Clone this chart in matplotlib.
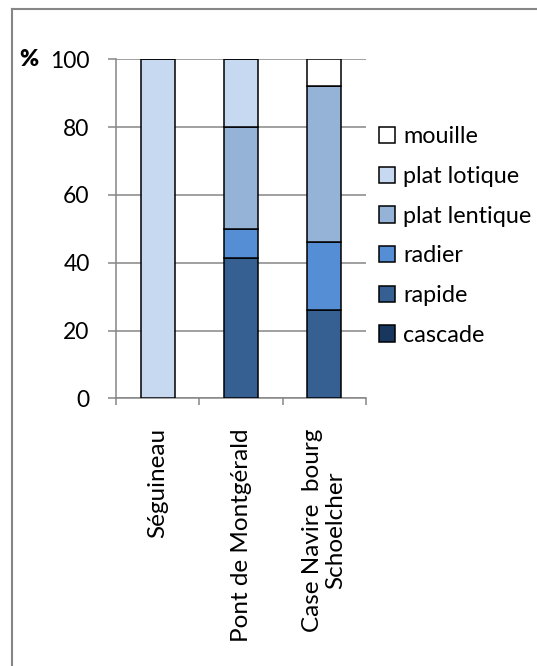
import matplotlib
matplotlib.use("Agg")
import matplotlib.pyplot as plt
import numpy as np
from matplotlib.lines import Line2D

plt.rcParams['font.family'] = ['Lato', 'DejaVu Sans']

stations = ["Séguineau", "Pont de Montgérald", "Case Navire  bourg\nSchoelcher"]
facies = ["cascade", "rapide", "radier", "plat lentique", "plat lotique", "mouille"]
values = {
    "cascade":       [0, 0, 0],
    "rapide":        [0, 41.5, 26],
    "radier":        [0, 8.5, 20],
    "plat lentique": [0, 30, 46],
    "plat lotique":  [100, 20, 0],
    "mouille":       [0, 0, 8],
}
colors = {
    "cascade": "#17375E",
    "rapide": "#376092",
    "radier": "#558ED5",
    "plat lentique": "#95B3D7",
    "plat lotique": "#C6D9F1",
    "mouille": "#FFFFFF",
}
yticks = [0, 20, 40, 60, 80, 100]

fig = plt.figure(figsize=(5.37, 6.66), dpi=100)
ax = fig.add_axes([116/537, 1-398.3/666, 250/537, 339/666])

x = np.arange(len(stations))
bottom = np.zeros(len(stations))
handles = []
for f in facies:
    v = np.array(values[f], dtype=float)
    b = ax.bar(x, v, width=0.41, bottom=bottom, color=colors[f],
               edgecolor="black", linewidth=1.1, label=f, zorder=3)
    bottom += v
    handles.append(b)

ax.set_xlim(-0.5, len(stations) - 0.5)
ax.set_ylim(0, 100)
ax.set_yticks(yticks)
ax.set_yticklabels([str(t) for t in yticks])
ax.yaxis.grid(True, color="#868686", linewidth=1.1, zorder=0)
ax.set_axisbelow(True)
for s in ["top", "right"]:
    ax.spines[s].set_visible(False)
for s in ["left", "bottom"]:
    ax.spines[s].set_color("#868686")
    ax.spines[s].set_linewidth(1.1)

# category boundary ticks on x
ax.set_xticks(np.arange(len(stations) + 1) - 0.5)
ax.set_xticklabels([])
ax.tick_params(axis="x", direction="out", length=5, width=1.1, color="#868686")
ax.tick_params(axis="y", direction="out", length=6, width=1.1, color="#868686",
               labelsize=16.5, pad=13)
for i, name in enumerate(stations):
    ax.text(i, -8.8, name, rotation=90, ha="center", va="top",
            multialignment="center", fontsize=17.5, transform=ax.transData,
            clip_on=False, linespacing=1.1)

ax.text(-0.312, 1.0, "%", transform=ax.transAxes, fontsize=16.5, fontweight="heavy",
        ha="right", va="center")

leg = fig.legend(handles[::-1], facies[::-1], loc="upper left",
                 bbox_to_anchor=(370/537, 1-117/666), frameon=False,
                 fontsize=16.8, handlelength=0.68, handleheight=0.68,
                 handletextpad=0.35, labelspacing=0.80, borderaxespad=0)

# outer frame (cut at right and bottom)
fig.add_artist(Line2D([12/537, 1.0], [1-9/666, 1-9/666], transform=fig.transFigure,
                      color="#868686", linewidth=1.5))
fig.add_artist(Line2D([12/537, 12/537], [1-9/666, 0], transform=fig.transFigure,
                      color="#868686", linewidth=1.5))

fig.savefig("out.png", dpi=100)
